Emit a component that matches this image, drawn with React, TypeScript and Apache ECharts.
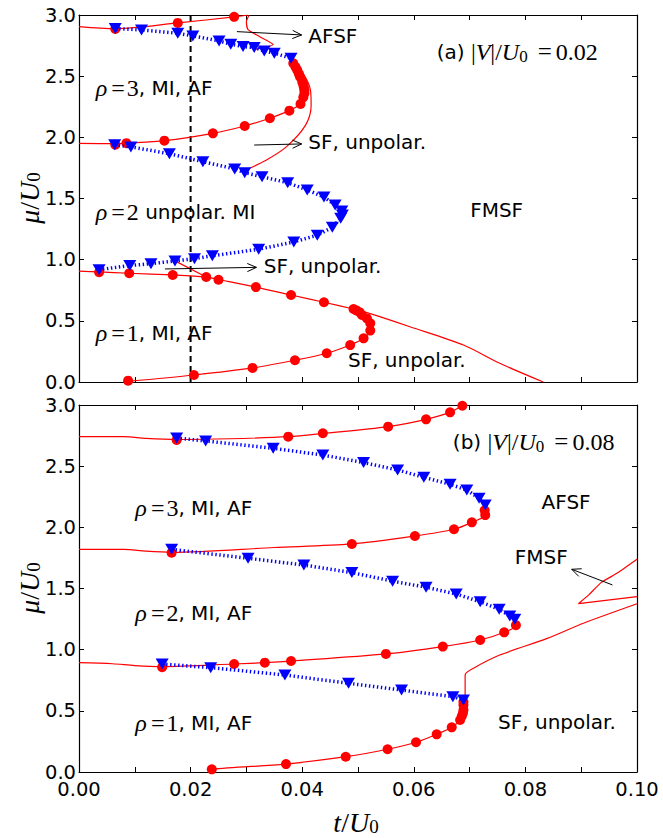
import React, { useEffect, useRef } from 'react';
import * as echarts from 'echarts';

type P = [number, number];

// ---------- Panel (a): |V|/U0 = 0.02 ----------
const aRedLineTop: P[] = [[0, 2.905], [0.0065, 2.888], [0.0177, 2.935], [0.0278, 2.985], [0.0302, 3.0]];
const aRedCirclesTop: P[] = [[0.0065, 2.886], [0.0177, 2.935], [0.0278, 2.985]];
const aBlueTop: P[] = [[0.0065, 2.89], [0.0112, 2.878], [0.0177, 2.851], [0.0204, 2.829], [0.0251, 2.788], [0.0272, 2.761], [0.0294, 2.742], [0.0314, 2.734], [0.0332, 2.706], [0.035, 2.688], [0.038, 2.646]];
const aRedLineLobe3: P[] = [[0.0381, 2.646], [0.0384, 2.605], [0.0391, 2.55], [0.0396, 2.496], [0.04, 2.455], [0.0403, 2.409], [0.0404, 2.36], [0.0402, 2.327], [0.0397, 2.273], [0.0377, 2.218], [0.0342, 2.156], [0.0297, 2.093], [0.024, 2.033], [0.0153, 1.973], [0.0085, 1.952], [0.0065, 1.948], [0, 1.951]];
const aRedCirclesLobe3: P[] = [[0.0384, 2.605], [0.0388, 2.575], [0.0391, 2.55], [0.0394, 2.52], [0.0396, 2.496], [0.04, 2.455], [0.0402, 2.43], [0.0403, 2.409], [0.0404, 2.385], [0.0404, 2.36], [0.0402, 2.327], [0.0397, 2.273], [0.0377, 2.218], [0.0342, 2.156], [0.0297, 2.093], [0.024, 2.033], [0.0153, 1.973], [0.0085, 1.952], [0.0065, 1.94]];
const aBlueLobe2: P[] = [[0.0064, 1.94], [0.0093, 1.922], [0.0162, 1.866], [0.0222, 1.801], [0.0279, 1.742], [0.0297, 1.711], [0.0328, 1.678], [0.0374, 1.629], [0.0409, 1.57], [0.0439, 1.512], [0.0459, 1.447], [0.0471, 1.398], [0.0472, 1.365], [0.0469, 1.338], [0.0454, 1.264], [0.0427, 1.2], [0.0385, 1.145], [0.0322, 1.085], [0.0239, 1.032], [0.0207, 1.008], [0.0172, 0.99], [0.0129, 0.967], [0.0091, 0.952], [0.0036, 0.918]];
const aRedLineRho1Upper: P[] = [[0, 0.907], [0.0036, 0.9], [0.009, 0.889], [0.0168, 0.875], [0.0228, 0.858], [0.025, 0.838], [0.0317, 0.776], [0.038, 0.711], [0.0439, 0.652], [0.0492, 0.597], [0.051, 0.575], [0.0539, 0.534], [0.0593, 0.452], [0.0689, 0.302], [0.0754, 0.153], [0.0832, 0.0]];
const aRedLineRho1Lower: P[] = [[0.0088, 0.005], [0.0206, 0.057], [0.0311, 0.115], [0.0387, 0.178], [0.0444, 0.235], [0.0486, 0.302], [0.051, 0.357], [0.0522, 0.42], [0.0522, 0.48], [0.0516, 0.52], [0.0507, 0.548], [0.0497, 0.585]];
const aRedCirclesRho1: P[] = [[0.0036, 0.897], [0.009, 0.889], [0.0168, 0.875], [0.0228, 0.858], [0.025, 0.836], [0.0317, 0.776], [0.038, 0.711], [0.0439, 0.652], [0.0492, 0.597], [0.0497, 0.585], [0.0503, 0.57], [0.0507, 0.548], [0.0516, 0.52], [0.0522, 0.48], [0.0522, 0.42], [0.051, 0.357], [0.0486, 0.302], [0.0444, 0.235], [0.0387, 0.178], [0.0311, 0.115], [0.0206, 0.057], [0.0088, 0.011]];
const aThinAFSF: P[] = [[0.0305, 3.0], [0.03, 2.946], [0.0303, 2.88], [0.0324, 2.823], [0.0348, 2.758], [0.0312, 2.716]];
const aThinSF3: P[] = [[0.0381, 2.646], [0.0405, 2.496], [0.0415, 2.38], [0.0416, 2.26], [0.0406, 2.1], [0.0372, 1.924], [0.0336, 1.815], [0.0294, 1.722]];
const aThinSF1: P[] = [[0.0172, 0.99], [0.0228, 0.858]];
const aDashed: P[] = [[0.02, 0], [0.02, 3]];

// ---------- Panel (b): |V|/U0 = 0.08 ----------
const bRedLineTop: P[] = [[0, 2.741], [0.008, 2.741], [0.012, 2.727], [0.0175, 2.718], [0.027, 2.724], [0.0375, 2.741], [0.0437, 2.767], [0.0554, 2.823], [0.0622, 2.883], [0.0665, 2.94], [0.0687, 2.994], [0.069, 3.0]];
const bRedCirclesTop: P[] = [[0.0175, 2.714], [0.0375, 2.741], [0.0437, 2.769], [0.0554, 2.823], [0.0622, 2.883], [0.0665, 2.94], [0.0687, 2.994]];
const bBlue3: P[] = [[0.0175, 2.73], [0.0227, 2.706], [0.0348, 2.646], [0.0437, 2.591], [0.051, 2.529], [0.0571, 2.469], [0.0618, 2.409], [0.0665, 2.352], [0.0695, 2.305], [0.0717, 2.237], [0.0728, 2.183]];
const bRedLine3: P[] = [[0.0728, 2.18], [0.0728, 2.14], [0.0728, 2.1], [0.0704, 2.041], [0.0672, 1.984], [0.0602, 1.929], [0.0489, 1.864], [0.035, 1.835], [0.0166, 1.796], [0.012, 1.805], [0.008, 1.82], [0, 1.82]];
const bRedCircles3: P[] = [[0.0727, 2.14], [0.0728, 2.1], [0.0704, 2.041], [0.0672, 1.984], [0.0602, 1.929], [0.0489, 1.864], [0.0166, 1.793]];
const bBlue2: P[] = [[0.0166, 1.82], [0.0303, 1.747], [0.0403, 1.692], [0.0489, 1.63], [0.0562, 1.56], [0.0622, 1.51], [0.0676, 1.455], [0.0719, 1.392], [0.0753, 1.33], [0.0772, 1.275], [0.0781, 1.248]];
const bRedLine2: P[] = [[0.0781, 1.25], [0.0783, 1.2], [0.0762, 1.142], [0.0719, 1.079], [0.0652, 1.025], [0.055, 0.965], [0.038, 0.907], [0.0333, 0.894], [0.0278, 0.883], [0.0149, 0.862], [0.01, 0.87], [0.006, 0.885], [0, 0.894]];
const bRedCircles2: P[] = [[0.0783, 1.2], [0.0762, 1.142], [0.0719, 1.079], [0.0652, 1.025], [0.055, 0.965], [0.038, 0.907], [0.0333, 0.894], [0.0278, 0.883], [0.0149, 0.856]];
const bBlue1: P[] = [[0.0149, 0.883], [0.0236, 0.853], [0.0369, 0.793], [0.0483, 0.725], [0.0578, 0.67], [0.067, 0.616], [0.0689, 0.589]];
const bRedLine1: P[] = [[0.0235, 0.0], [0.0238, 0.022], [0.0371, 0.065], [0.0478, 0.125], [0.0553, 0.186], [0.0604, 0.243], [0.0641, 0.308], [0.0668, 0.365], [0.0683, 0.425], [0.0689, 0.507], [0.0689, 0.589]];
const bRedCircles1: P[] = [[0.0689, 0.575], [0.0689, 0.548], [0.0689, 0.507], [0.0688, 0.48], [0.0686, 0.455], [0.0683, 0.425], [0.0668, 0.365], [0.0641, 0.308], [0.0604, 0.243], [0.0553, 0.186], [0.0478, 0.125], [0.0371, 0.065], [0.0238, 0.022]];
const bThinSF: P[] = [[0.0692, 0.589], [0.0692, 0.793], [0.0707, 0.848], [0.0754, 0.956], [0.0838, 1.09], [0.0904, 1.216], [0.1, 1.375]];
const bThinFMSF: P[] = [[0.1, 1.433], [0.0895, 1.376], [0.0914, 1.45], [0.0936, 1.55], [0.0964, 1.624], [0.1, 1.739]];

// ---------- tick labels ----------
const xTickLabels = ['0.00', '0.02', '0.04', '0.06', '0.08', '0.10'];
const yTickLabels = ['0.0', '0.5', '1.0', '1.5', '2.0', '2.5', '3.0'];

// ---------- annotations (panel, t, mu, rich text) ----------
const rho = (n: number, rest: string) => `{m|ρ}{eq|=}{r|${n}}{s|${rest}}`;
const vLabel = (p: string, v: string) => `{s|(${p}) }{r||}{m|V}{r||/}{m|U}{sub|0}{eq2|=}{r|${v}}`;
const texts: { g: number; t: number; m: number; s: string }[] = [
  { g: 0, t: 0.0411, m: 2.83, s: '{s|AFSF}' },
  { g: 0, t: 0.0411, m: 1.96, s: '{s|SF, unpolar.}' },
  { g: 0, t: 0.0331, m: 0.95, s: '{s|SF, unpolar.}' },
  { g: 0, t: 0.0482, m: 0.18, s: '{s|SF, unpolar.}' },
  { g: 0, t: 0.0701, m: 1.41, s: '{s|FMSF}' },
  { g: 0, t: 0.0641, m: 2.70, s: vLabel('a', '0.02') },
  { g: 0, t: 0.003, m: 2.40, s: rho(3, ', MI, AF') },
  { g: 0, t: 0.003, m: 1.39, s: rho(2, ' unpolar. MI') },
  { g: 0, t: 0.003, m: 0.40, s: rho(1, ', MI, AF') },
  { g: 1, t: 0.067, m: 2.70, s: vLabel('b', '0.08') },
  { g: 1, t: 0.0829, m: 2.21, s: '{s|AFSF}' },
  { g: 1, t: 0.0781, m: 1.76, s: '{s|FMSF}' },
  { g: 1, t: 0.0751, m: 0.41, s: '{s|SF, unpolar.}' },
  { g: 1, t: 0.0101, m: 2.156, s: rho(3, ', MI, AF') },
  { g: 1, t: 0.0101, m: 1.297, s: rho(2, ', MI, AF') },
  { g: 1, t: 0.0101, m: 0.398, s: rho(1, ', MI, AF') },
];
const arrows: { g: number; from: P; to: P }[] = [
  { g: 0, from: [0.0283, 2.864], to: [0.0399, 2.837] },
  { g: 0, from: [0.0314, 1.937], to: [0.0399, 1.946] },
  { g: 0, from: [0.0154, 0.924], to: [0.0318, 0.937] },
  { g: 1, from: [0.0956, 1.529], to: [0.0883, 1.657] },
];

const rich: any = {
  s: { fontFamily: 'DejaVu Sans', fontSize: 20, fill: '#000', lineHeight: 26 },
  m: { fontFamily: 'Liberation Serif', fontStyle: 'italic', fontSize: 24, fill: '#000', lineHeight: 26 },
  r: { fontFamily: 'Liberation Serif', fontSize: 24, fill: '#000', lineHeight: 26 },
  eq: { fontFamily: 'Liberation Serif', fontSize: 24, fill: '#000', lineHeight: 26, padding: [0, 2, 0, 4] },
  eq2: { fontFamily: 'Liberation Serif', fontSize: 25, fill: '#000', lineHeight: 26, padding: [0, 4, 0, 10] },
  sub: { fontFamily: 'Liberation Serif', fontSize: 17, fill: '#000', lineHeight: 14, verticalAlign: 'bottom' },
};
const richBig: any = {
  m: { fontFamily: 'Liberation Serif', fontStyle: 'italic', fontSize: 28, fill: '#000', lineHeight: 28 },
  r: { fontFamily: 'Liberation Serif', fontSize: 28, fill: '#000', lineHeight: 28 },
  sub: { fontFamily: 'Liberation Serif', fontSize: 19, fill: '#000', lineHeight: 15, verticalAlign: 'bottom' },
};

const AX = [{ x: 0, y: 0 }, { x: 2, y: 2 }];

export default function App() {
  const ref = useRef<HTMLDivElement>(null);
  useEffect(() => {
    const chart = echarts.init(ref.current!, undefined, { renderer: 'svg' });
    const axisLine = { show: true, onZero: false, lineStyle: { color: '#000', width: 1.2 } };
    const axisTick = { show: true, inside: true, length: 5, lineStyle: { color: '#000', width: 1 } };
    const font = { fontFamily: 'DejaVu Sans', fontSize: 19.5, color: '#000' };
    const xFmt = (v: number) => {
      const k = Math.round(v * 100);
      return k % 2 === 0 ? xTickLabels[k / 2] : '';
    };
    const yFmt = (v: number) => yTickLabels[Math.round(v * 2)] ?? '';
    const mkX = (grid: number, pos: string, show: boolean) => ({
      type: 'value', gridIndex: grid, position: pos, min: 0, max: 0.1, interval: 0.01,
      axisLine, axisTick, splitLine: { show: false },
      axisLabel: { show, formatter: xFmt, margin: 7, ...font },
    });
    const mkY = (grid: number, pos: string, show: boolean) => ({
      type: 'value', gridIndex: grid, position: pos, min: 0, max: 3, interval: 0.5,
      axisLine, axisTick, splitLine: { show: false },
      axisLabel: { show, formatter: yFmt, margin: 3, ...font },
    });
    const redLine = (g: number, data: P[], smooth = 0.3) => ({
      type: 'line', xAxisIndex: AX[g].x, yAxisIndex: AX[g].y, data, symbol: 'none', smooth,
      lineStyle: { color: '#ff0000', width: 1.2 }, z: 2, silent: true,
    });
    const redDots = (g: number, data: P[]) => ({
      type: 'scatter', xAxisIndex: AX[g].x, yAxisIndex: AX[g].y, data, symbol: 'circle', symbolSize: 10,
      itemStyle: { color: '#ff0000', opacity: 1 }, z: 3, silent: true,
    });
    const blue = (g: number, data: P[]) => ({
      type: 'line', xAxisIndex: AX[g].x, yAxisIndex: AX[g].y, data, symbol: 'triangle', symbolRotate: 180,
      symbolSize: [13, 11], showAllSymbol: true, itemStyle: { color: '#0000ff', opacity: 1 },
      lineStyle: { color: '#0000ff', width: 3.5, type: [1.4, 2.6], cap: 'butt' }, z: 4, silent: true,
    });

    chart.setOption({
      animation: false,
      backgroundColor: '#fff',
      grid: [
        { left: 79, top: 15, width: 558, height: 367, outerBoundsMode: 'none' },
        { left: 79, top: 405, width: 558, height: 367, outerBoundsMode: 'none' },
      ],
      xAxis: [mkX(0, 'bottom', false), mkX(0, 'top', false), mkX(1, 'bottom', true), mkX(1, 'top', false)],
      yAxis: [mkY(0, 'left', true), mkY(0, 'right', false), mkY(1, 'left', true), mkY(1, 'right', false)],
      series: [
        redLine(0, aRedLineTop), redLine(0, aRedLineLobe3), redLine(0, aRedLineRho1Upper), redLine(0, aRedLineRho1Lower),
        redLine(0, aThinAFSF, 0.2), redLine(0, aThinSF3), redLine(0, aThinSF1, 0),
        {
          type: 'line', xAxisIndex: 0, yAxisIndex: 0, data: aDashed, symbol: 'none',
          lineStyle: { color: '#000', width: 2, type: [6, 4] }, z: 1, silent: true,
        },
        redDots(0, aRedCirclesTop), redDots(0, aRedCirclesLobe3), redDots(0, aRedCirclesRho1),
        blue(0, aBlueTop), blue(0, aBlueLobe2),
        redLine(1, bRedLineTop), redLine(1, bRedLine3), redLine(1, bRedLine2), redLine(1, bRedLine1),
        redLine(1, bThinSF, 0.25), redLine(1, bThinFMSF, 0.1),
        redDots(1, bRedCirclesTop), redDots(1, bRedCircles3), redDots(1, bRedCircles2), redDots(1, bRedCircles1),
        blue(1, bBlue3), blue(1, bBlue2), blue(1, bBlue1),
      ],
    } as any);

    const px = (g: number, p: P) =>
      chart.convertToPixel({ xAxisIndex: AX[g].x, yAxisIndex: AX[g].y } as any, p) as unknown as number[];

    const graphics: any[] = [];
    texts.forEach((a) => {
      const [x, y] = px(a.g, [a.t, a.m]);
      graphics.push({
        type: 'text', z: 100, silent: true,
        style: { text: a.s, rich, x, y, align: 'left', verticalAlign: 'middle', fill: '#000' },
      });
    });
    arrows.forEach((a) => {
      const p0 = px(a.g, a.from);
      const p1 = px(a.g, a.to);
      const dx = p1[0] - p0[0], dy = p1[1] - p0[1];
      const len = Math.hypot(dx, dy);
      const ux = dx / len, uy = dy / len;
      const L = 10, ang = 0.42, c = Math.cos(ang), s = Math.sin(ang);
      const h1 = [p1[0] - L * (ux * c - uy * s), p1[1] - L * (uy * c + ux * s)];
      const h2 = [p1[0] - L * (ux * c + uy * s), p1[1] - L * (uy * c - ux * s)];
      graphics.push({ type: 'line', z: 100, silent: true, shape: { x1: p0[0], y1: p0[1], x2: p1[0], y2: p1[1] }, style: { stroke: '#000', lineWidth: 1 } });
      graphics.push({ type: 'polyline', z: 100, silent: true, shape: { points: [h1, p1, h2] }, style: { stroke: '#000', fill: null, lineWidth: 1 } });
    });
    graphics.push({
      type: 'text', z: 100, silent: true, x: 29, y: 198, rotation: Math.PI / 2,
      style: { text: '{m|μ}{r|/}{m|U}{sub|0}', rich: richBig, align: 'center', verticalAlign: 'middle' },
    });
    graphics.push({
      type: 'text', z: 100, silent: true, x: 29, y: 588, rotation: Math.PI / 2,
      style: { text: '{m|μ}{r|/}{m|U}{sub|0}', rich: richBig, align: 'center', verticalAlign: 'middle' },
    });
    graphics.push({
      type: 'text', z: 100, silent: true, x: 356, y: 822,
      style: { text: '{m|t}{r|/}{m|U}{sub|0}', rich: richBig, align: 'center', verticalAlign: 'middle' },
    });
    chart.setOption({ graphic: graphics } as any);

    return () => chart.dispose();
  }, []);
  return <div ref={ref} style={{ position: 'absolute', left: 0, top: 0, width: 663, height: 838 }} />;
}
